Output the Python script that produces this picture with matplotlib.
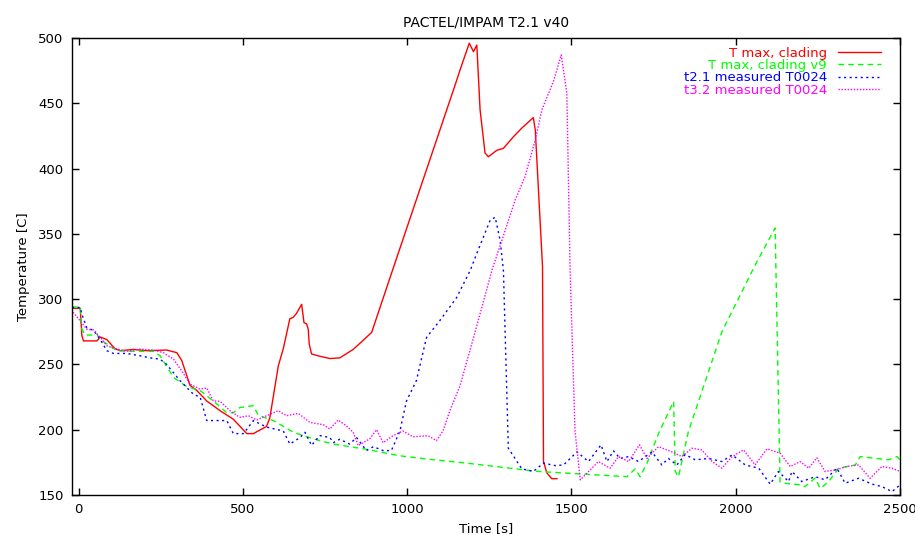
import matplotlib
matplotlib.use("Agg")
import matplotlib.pyplot as plt

plt.rcParams['font.family'] = ['DejaVu Sans']

# T max, clading (red)
t_red = [-20, 5, 10, 15, 56, 66, 86, 111, 127, 167, 208, 268, 299, 314, 339, 360, 390, 431, 471,
         512, 532, 572, 582, 608, 623, 643, 653, 663, 679, 686, 694, 699, 702, 709, 730, 765, 795,
         836, 892, 954, 1146, 1161, 1189, 1202, 1212, 1222, 1237, 1247, 1273, 1293, 1324, 1349,
         1384, 1390, 1412, 1415, 1425, 1440, 1456]
T_red = [293, 293, 272, 268, 268, 271, 269, 262, 260.5, 261.5, 260.5, 261, 259, 253, 234, 230, 222,
         214.5, 208, 197, 197, 202.5, 209, 249, 262, 285, 286, 289, 296, 282, 281, 277, 265.5, 258,
         256.5, 254.5, 255, 261.5, 274.5, 321, 464, 475.5, 496, 489.5, 494.6, 445, 412, 409, 414,
         415.5, 424.5, 431, 439, 429.5, 325, 175.6, 167, 162.5, 162.5]

# T max, clading v9 (green)
t_green = [-20, 5, 10, 20, 46, 56, 66, 96, 117, 167, 228, 248, 289, 329, 370, 410, 451, 471, 491,
           532, 547, 593, 654, 714, 775, 876, 978, 1079, 1160, 1400, 1669, 1694, 1709, 1730, 1765,
           1811, 1816, 1826, 1856, 1958, 2059, 2120, 2135, 2146, 2201, 2211, 2242, 2257, 2282, 2313,
           2364, 2379, 2425, 2465, 2491, 2500]
T_green = [294, 294, 277, 272.5, 272.5, 273, 269, 264, 260.5, 260, 260, 256.6, 240, 233, 230, 222,
           213, 213, 217, 218.4, 211, 207, 198, 193, 189, 185, 180, 177, 175, 168, 164, 170, 164,
           174.4, 197, 221.6, 168, 164, 198.6, 275, 326, 354.5, 160, 159, 157.7, 156.4, 163, 155,
           160, 170.5, 173, 179.4, 178, 177, 179.4, 177]

# t2.1 measured T0024 (blue)
t_blue = [-20, 5, 10, 25, 46, 66, 86, 106, 147, 187, 218, 248, 268, 309, 350, 370, 390, 410, 451,
          471, 502, 532, 572, 623, 643, 674, 689, 709, 734, 765, 775, 795, 825, 846, 876, 897, 927,
          952, 978, 998, 1028, 1059, 1099, 1150, 1192, 1212, 1253, 1268, 1283, 1293, 1308, 1349,
          1384, 1415, 1451, 1476, 1517, 1552, 1590, 1608, 1628, 1648, 1674, 1704, 1745, 1775, 1795,
          1821, 1846, 1877, 1917, 1958, 1989, 2029, 2070, 2105, 2130, 2161, 2171, 2201, 2242, 2272,
          2308, 2333, 2374, 2415, 2445, 2476, 2500]
T_blue = [293.6, 293.6, 288.5, 278, 276, 269, 260.5, 258.4, 258.4, 256.6, 255, 254, 250, 237.5, 227,
          225, 207, 207, 207, 197, 197, 207, 202, 199, 189, 194, 198, 188, 195.5, 194, 190, 192.7,
          189, 194, 184, 187, 184, 184, 199, 222, 237.5, 270.7, 283.4, 301, 322, 335, 360.6, 362.7,
          345, 322, 185.8, 170, 168, 174.4, 172.5, 173, 183, 175.6, 188.4, 175.6, 183.8, 178, 179.4,
          175.6, 183, 173, 178, 173, 181, 176.9, 178, 175.6, 180.7, 173, 170.5, 158.3, 168, 160.3,
          168, 160.3, 164, 161.6, 170.5, 159, 162.8, 158.3, 156.4, 152.6, 157.7]

# t3.2 measured T0024 (magenta)
t_mag = [-17, 5, 25, 46, 66, 86, 117, 147, 187, 228, 258, 289, 314, 339, 370, 390, 410, 431, 461,
         491, 517, 542, 572, 608, 633, 669, 704, 745, 765, 790, 815, 836, 851, 886, 907, 927, 957,
         987, 1018, 1064, 1089, 1109, 1130, 1161, 1207, 1258, 1329, 1359, 1390, 1410, 1445, 1469,
         1486, 1496, 1511, 1527, 1552, 1582, 1618, 1643, 1674, 1707, 1730, 1765, 1806, 1836, 1867,
         1897, 1928, 1958, 1989, 2024, 2059, 2095, 2135, 2166, 2196, 2222, 2247, 2272, 2303, 2338,
         2374, 2409, 2445, 2476, 2500]
T_mag = [290, 283.4, 277, 276.3, 270.7, 264.3, 261.7, 260, 261.7, 261, 259, 254, 245, 235, 231, 232,
         222, 221.7, 214.5, 209.4, 210.7, 207.4, 210.7, 214.5, 210.7, 212.5, 205.6, 203.8, 200.5,
         207.4, 203, 198, 187.8, 193, 200, 190, 195.4, 199, 194.6, 195.4, 191.6, 199, 214.5, 233.7,
         275, 322, 376, 394, 422, 445, 466.5, 487, 457.6, 322, 198.6, 161.6, 168, 175.6, 170.5,
         179.4, 175.6, 188.4, 178, 187, 183, 179.4, 185.8, 184.5, 175.6, 170.5, 179.4, 184.5, 173,
         185.3, 182, 171.8, 175.6, 170.5, 178.5, 168, 169.2, 171.8, 173, 162.8, 171.8, 170.5, 168]

fig = plt.figure(figsize=(9.15, 5.35), dpi=100)
ax = fig.add_axes([0.0787, 0.0748, 0.9049, 0.8542])

ax.plot(t_red, T_red, color='#ff0000', lw=1.0, label='T max, clading')
ax.plot(t_green, T_green, color='#00ff00', lw=1.0, dashes=(4, 3), label='T max, clading v9')
ax.plot(t_blue, T_blue, color='#0000ff', lw=1.0, dashes=(1.5, 2.5), label='t2.1 measured T0024')
ax.plot(t_mag, T_mag, color='#ff00ff', lw=1.0, dashes=(1, 1.2), label='t3.2 measured T0024')

ax.set_xlim(-20, 2500)
ax.set_ylim(150, 500)
ax.set_xticks([0, 500, 1000, 1500, 2000, 2500])
ax.set_yticks([150, 200, 250, 300, 350, 400, 450, 500])
ax.tick_params(direction='in', top=True, right=True, length=5, width=1, labelsize=9.5, pad=6)
for s in ax.spines.values():
    s.set_linewidth(1)

ax.set_xlabel('Time [s]', fontsize=9.5, labelpad=4)
ax.set_ylabel('Temperature [C]', fontsize=9.5, labelpad=6)
ax.set_title('PACTEL/IMPAM T2.1 v40', fontsize=10, pad=8)

leg = ax.legend(loc='upper right', bbox_to_anchor=(0.99, 1.004), frameon=False, markerfirst=False,
                fontsize=9.5, handlelength=3.3, handletextpad=0.8, labelspacing=-0.05, borderpad=0.3)
for txt, ln in zip(leg.get_texts(), leg.get_lines()):
    txt.set_color(ln.get_color())

fig.savefig('out.png', dpi=100)
